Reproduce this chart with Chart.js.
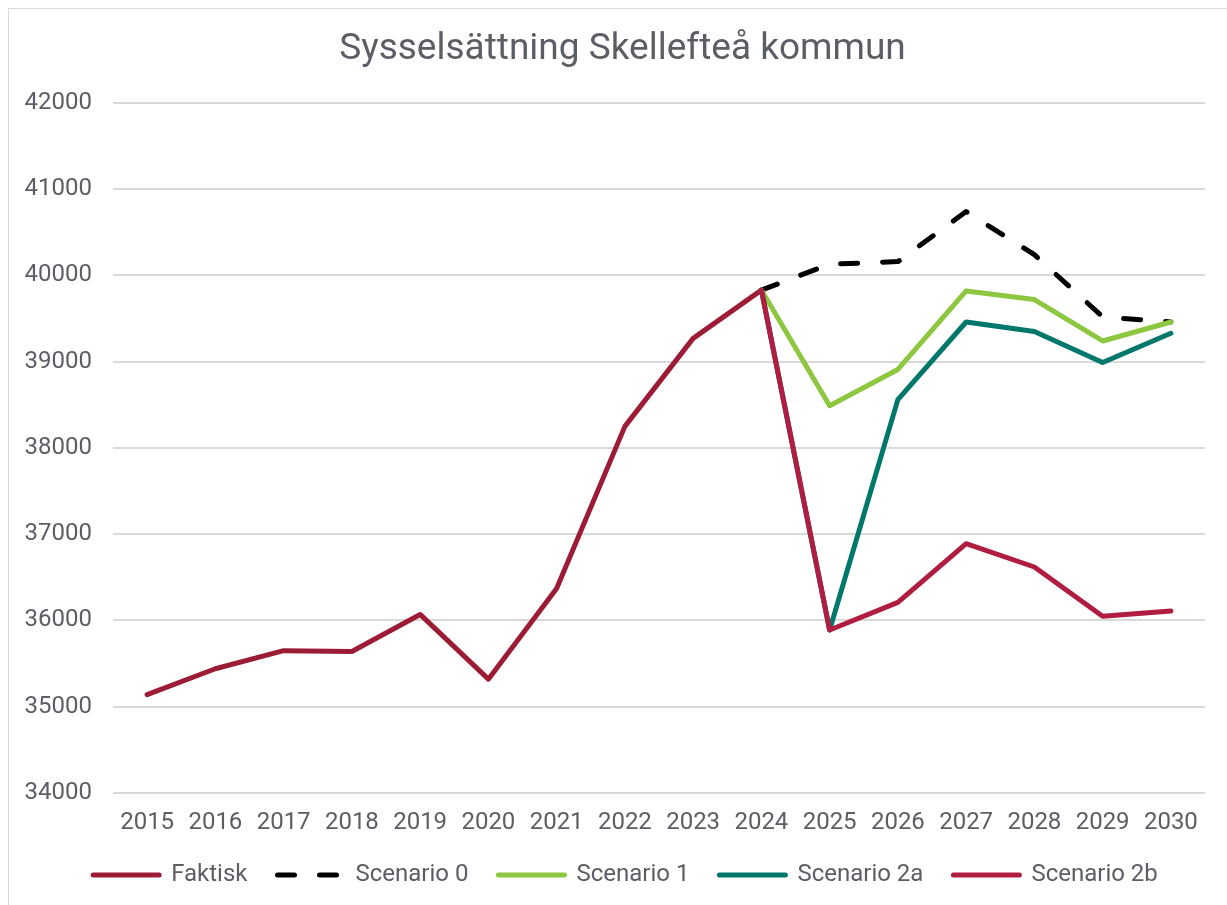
<!DOCTYPE html>
<html>
<head>
<meta charset="utf-8">
<script src="https://cdn.jsdelivr.net/npm/chart.js@4/dist/chart.umd.min.js"></script>
<style>
  html, body { margin: 0; padding: 0; background: #fff; }
  #wrap { position: absolute; left: 0; top: 0; width: 1227px; height: 905px; }
  #frame { position: absolute; left: 8px; top: 8px; width: 1240px; height: 920px; border: 1px solid #d9d9d9; pointer-events: none; }
</style>
</head>
<body>
<div id="wrap"><canvas id="jobsChart" width="1227" height="905"></canvas></div>
<div id="frame"></div>
<script>
// Data
const years = ['2015', '2016', '2017', '2018', '2019', '2020', '2021', '2022',
               '2023', '2024', '2025', '2026', '2027', '2028', '2029', '2030'];
const faktisk    = [35140, 35440, 35650, 35640, 36070, 35320, 36370, 38250, 39270, 39830,
                    null, null, null, null, null, null];
const scenario0  = [null, null, null, null, null, null, null, null, null, 39830,
                    40130, 40160, 40740, 40240, 39520, 39460];
const scenario1  = [null, null, null, null, null, null, null, null, null, 39830,
                    38490, 38910, 39820, 39720, 39240, 39460];
const scenario2a = [null, null, null, null, null, null, null, null, null, 39830,
                    35890, 38560, 39460, 39350, 38990, 39330];
const scenario2b = [null, null, null, null, null, null, null, null, null, 39830,
                    35890, 36210, 36890, 36620, 36050, 36110];

const textColor = '#5b5e64';
const fontFamily = 'Roboto, "Liberation Sans", Arial, sans-serif';

// later series on top, like in Excel
function lineSet(label, data, color, order, dash) {
  return {
    label: label,
    data: data,
    borderColor: color,
    backgroundColor: color,
    borderWidth: 5,
    borderDash: dash || [],
    borderCapStyle: 'round',
    borderJoinStyle: 'round',
    pointRadius: 0,
    pointHoverRadius: 0,
    tension: 0,
    order: order
  };
}

// title and legend sit a bit right of the canvas centre in the original
const shiftBlocks = {
  id: 'shiftBlocks',
  afterLayout: function(chart) {
    chart.titleBlock.left += 20;
    chart.titleBlock.right += 20;
    chart.legend.left += 23;
    chart.legend.right += 23;
  }
};

const ctx = document.getElementById('jobsChart').getContext('2d');
const jobsChart = new Chart(ctx, {
  type: 'line',
  data: {
    labels: years,
    datasets: [
      lineSet('Faktisk', faktisk, '#9c1c36', 4),
      lineSet('Scenario 0', scenario0, '#000000', 3, [17, 25]),
      lineSet('Scenario 1', scenario1, '#8dc63f', 2),
      lineSet('Scenario 2a', scenario2a, '#00776b', 1),
      lineSet('Scenario 2b', scenario2b, '#b01d40', 0)
    ]
  },
  plugins: [shiftBlocks],
  options: {
    responsive: false,
    animation: false,
    layout: { padding: { top: 10, right: 22, bottom: 8, left: 0 } },
    plugins: {
      title: {
        display: true,
        text: 'Sysselsättning Skellefteå kommun',
        color: textColor,
        font: { family: fontFamily, size: 37, weight: 'normal' },
        padding: { top: 18, bottom: 30.5 }
      },
      legend: {
        position: 'bottom',
        labels: {
          color: textColor,
          font: { family: fontFamily, size: 24 },
          usePointStyle: true,
          pointStyle: 'line',
          pointStyleWidth: 66,
          boxWidth: 66,
          padding: 30,
          sort: function(a, b) { return a.datasetIndex - b.datasetIndex; },
          generateLabels: function(chart) {
            const items = Chart.defaults.plugins.legend.labels.generateLabels(chart);
            items.forEach(function(item) {
              const ds = chart.data.datasets[item.datasetIndex];
              item.strokeStyle = ds.borderColor;
              item.fillStyle = ds.borderColor;
              item.lineWidth = ds.borderWidth;
              item.lineDash = ds.borderDash;
              item.lineCap = 'round';
              item.pointStyle = 'line';
            });
            return items;
          }
        }
      },
      tooltip: { enabled: false }
    },
    scales: {
      x: {
        offset: true,
        afterFit: function(scale) { scale.height = 40; },
        grid: { display: false, drawTicks: false },
        border: { display: false },
        ticks: {
          color: textColor,
          font: { family: fontFamily, size: 24 },
          padding: 16,
          maxRotation: 0,
          autoSkip: false
        }
      },
      y: {
        min: 34000,
        max: 42000,
        afterFit: function(scale) { scale.width = 113; },
        grid: { color: '#d9d9d9', lineWidth: 2, drawTicks: false },
        border: { display: false },
        ticks: {
          stepSize: 1000,
          color: textColor,
          font: { family: fontFamily, size: 24 },
          padding: 21,
          callback: function(v) { return String(v); }
        }
      }
    }
  }
});
</script>
</body>
</html>
